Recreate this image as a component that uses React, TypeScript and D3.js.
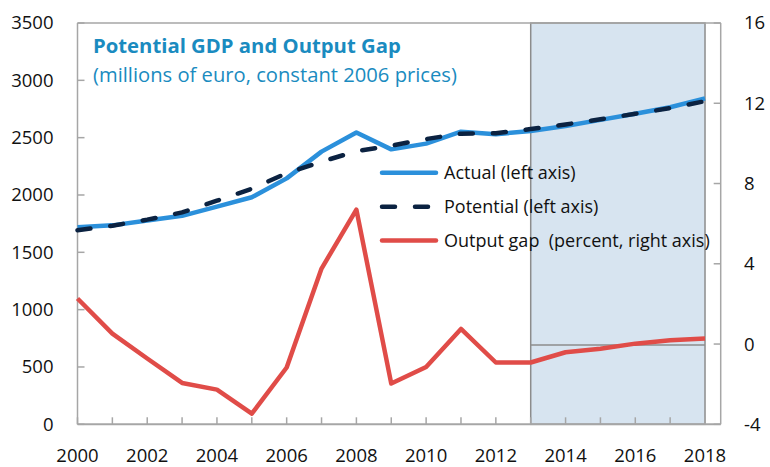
import React from "react";
import * as d3 from "d3";

const years = [2000, 2001, 2002, 2003, 2004, 2005, 2006, 2007, 2008, 2009, 2010, 2011, 2012, 2013, 2014, 2015, 2016, 2017, 2018];
const actual = [1718, 1735, 1778, 1818, 1898, 1980, 2145, 2378, 2545, 2398, 2448, 2552, 2530, 2558, 2602, 2655, 2708, 2765, 2843];
const potential = [1692, 1732, 1785, 1848, 1950, 2055, 2190, 2290, 2382, 2430, 2488, 2535, 2538, 2575, 2615, 2660, 2708, 2758, 2818];
const outputGap = [2.27, 0.52, -0.72, -1.94, -2.27, -3.47, -1.17, 3.76, 6.7, -1.97, -1.14, 0.75, -0.92, -0.92, -0.41, -0.23, 0.02, 0.19, 0.27];
const leftTicks = [0, 500, 1000, 1500, 2000, 2500, 3000, 3500];
const rightTicks = [-4, 0, 4, 8, 12, 16];
const xLabels = [2000, 2002, 2004, 2006, 2008, 2010, 2012, 2014, 2016, 2018];
const projectionStart = 2013;
const projectionEnd = 2018;
const legendItems = ["Actual (left axis)", "Potential (left axis)", "Output gap  (percent, right axis)"];
const titleText = "Potential GDP and Output Gap";
const subtitleText = "(millions of euro, constant 2006 prices)";

const W = 770, H = 467;
const L = 77.5, R = 720.7, T = 23, B = 424.3;
const FONT = "'Open Sans', sans-serif";
const BLUE = "#2b90db";
const NAVY = "#0b2241";
const RED = "#e04c48";
const AXIS = "#a6a6a6";
const TITLE = "#1a8bc0";

export default function App() {
  const x = d3.scaleLinear().domain([2000, 2018.45]).range([L, R]);
  const yL = d3.scaleLinear().domain([0, 3500]).range([B, T]);
  const yR = d3.scaleLinear().domain([-4, 16]).range([B, T]);

  const lineL = d3.line<number>().x((_, i) => x(years[i])).y((d) => yL(d));
  const lineR = d3.line<number>().x((_, i) => x(years[i])).y((d) => yR(d));

  const legendColors = [BLUE, NAVY, RED];
  const legendY = [172.7, 206.7, 240.5];

  return (
    <svg width={W} height={H} style={{ position: "absolute", left: 0, top: 0, background: "#fff" }} fontFamily={FONT}>
      <rect x={0} y={0} width={W} height={H} fill="#fff" />
      {/* projection shading */}
      <rect
        x={x(projectionStart)}
        y={T}
        width={x(projectionEnd) - x(projectionStart)}
        height={B - T}
        fill="#d7e4f0"
        stroke="#8c8c8c"
        strokeWidth={1.5}
      />
      <line x1={x(projectionStart)} x2={x(projectionEnd)} y1={yR(0) + 1} y2={yR(0) + 1} stroke="#8c8c8c" strokeWidth={1.5} />

      {/* frame */}
      <line x1={L} x2={R} y1={T} y2={T} stroke={AXIS} strokeWidth={1.5} />
      <line x1={R} x2={R} y1={T} y2={B} stroke={AXIS} strokeWidth={1.5} />
      <line x1={L} x2={L} y1={T} y2={B} stroke={AXIS} strokeWidth={1.5} />
      <line x1={L} x2={R} y1={B} y2={B} stroke={AXIS} strokeWidth={2} />

      {/* left ticks */}
      {leftTicks.map((t) => (
        <g key={"l" + t}>
          <line x1={L} x2={L + 7} y1={yL(t)} y2={yL(t)} stroke={AXIS} strokeWidth={1.5} />
          <text x={53.5} y={yL(t)} dy="0.35em" textAnchor="end" fontSize={18.5} fill="#111">{t}</text>
        </g>
      ))}
      {/* right ticks */}
      {rightTicks.map((t) => (
        <g key={"r" + t}>
          <line x1={R - 7} x2={R} y1={yR(t)} y2={yR(t)} stroke={AXIS} strokeWidth={1.5} />
          <text x={744} y={yR(t)} dy="0.35em" textAnchor="start" fontSize={18.5} fill="#111">{t}</text>
        </g>
      ))}
      {/* x ticks */}
      {years.map((yr) => (
        <line key={"x" + yr} x1={x(yr)} x2={x(yr)} y1={B} y2={B - 7} stroke={AXIS} strokeWidth={1.5} />
      ))}
      {xLabels.map((yr) => (
        <text key={"xl" + yr} x={x(yr)} y={461.5} textAnchor="middle" fontSize={18.5} fill="#111">{yr}</text>
      ))}

      {/* series */}
      <path d={lineL(actual) || ""} fill="none" stroke={BLUE} strokeWidth={4.5} strokeLinejoin="round" />
      <path d={lineL(potential) || ""} fill="none" stroke={NAVY} strokeWidth={4.5} strokeDasharray="13,20" strokeLinecap="round" />
      <path d={lineR(outputGap) || ""} fill="none" stroke={RED} strokeWidth={4.5} strokeLinejoin="round" />

      {/* title */}
      <text x={93} y={53} fontSize={20.3} fontWeight={700} fill={TITLE}>{titleText}</text>
      <text x={93} y={81.5} fontSize={20.2} fill={TITLE}>{subtitleText}</text>

      {/* legend */}
      {legendItems.map((label, i) => (
        <g key={label}>
          <line
            x1={382}
            x2={436}
            y1={legendY[i]}
            y2={legendY[i]}
            stroke={legendColors[i]}
            strokeWidth={4.5}
            strokeLinecap="round"
            strokeDasharray={i === 1 ? "13,20" : undefined}
          />
          <text x={444} y={legendY[i]} dy="0.35em" fontSize={18} fill="#111" style={{ whiteSpace: "pre" }}>{label}</text>
        </g>
      ))}
    </svg>
  );
}
